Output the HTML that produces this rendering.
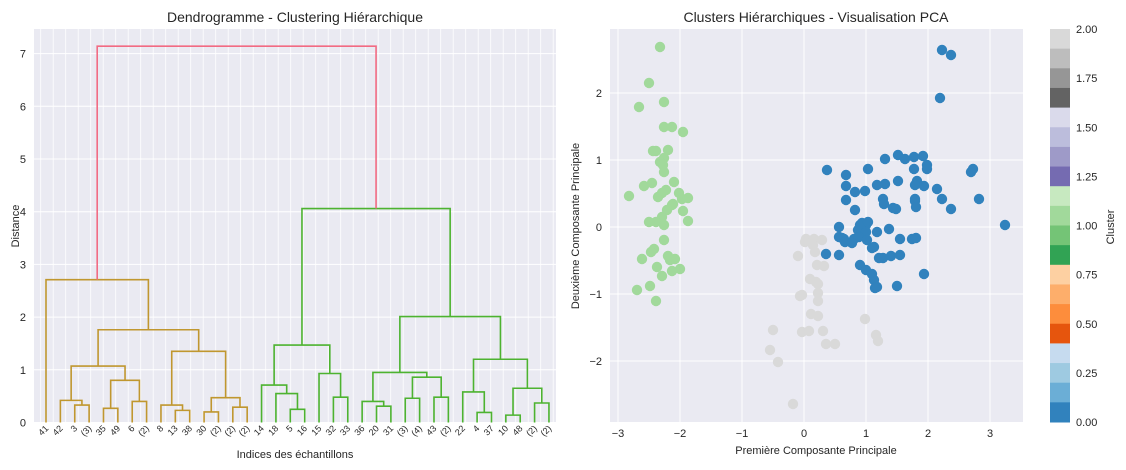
<!DOCTYPE html>
<html><head><meta charset="utf-8"><style>
body{margin:0;background:#fff;}
svg{display:block;font-family:"Liberation Sans",Arial,sans-serif;}
</style></head><body>
<svg id="s" width="1126" height="470" xmlns="http://www.w3.org/2000/svg"></svg>
<script>
const S=document.getElementById('s');let h='';
// LEFT
const L=34,R=556,T=29,B=422;
h+=`<rect x="${L}" y="${T}" width="${R-L}" height="${B-T}" fill="#eaeaf2"/>`;
for(let x=40.7;x<R;x+=12.5)h+=`<line x1="${x}" y1="${T}" x2="${x}" y2="${B}" stroke="#fff" stroke-width="0.8"/>`;
const yd=d=>422.5-52.7*d;
for(let d=0;d<=7;d++){h+=`<line x1="${L}" y1="${yd(d)}" x2="${R}" y2="${yd(d)}" stroke="#fff" stroke-width="1"/>`;
h+=`<text x="${L-8}" y="${yd(d)+4}" font-size="11" fill="#262626" text-anchor="end">${d}</text>`;}
const lx=i=>46+i*14.37;
const n=(hh,a,b)=>({h:hh,a,b});
const A=n(2.71,0,n(1.76,n(1.07,n(0.42,1,n(0.33,2,3)),n(0.80,n(0.27,4,5),n(0.40,6,7))),n(1.35,n(0.33,8,n(0.23,9,10)),n(0.47,n(0.20,11,12),n(0.29,13,14)))));
const Bt=n(4.06,n(1.47,n(0.71,15,n(0.55,16,n(0.25,17,18))),n(0.93,19,n(0.48,20,21))),n(2.01,n(0.95,n(0.40,22,n(0.31,23,24)),n(0.86,n(0.46,25,26),n(0.48,27,28))),n(1.20,n(0.58,29,n(0.19,30,31)),n(0.65,n(0.14,32,33),n(0.37,34,35)))));
function draw(t,c){if(typeof t==='number')return[lx(t),0];
const[xa,ha]=draw(t.a,c),[xb,hb]=draw(t.b,c);
h+=`<path d="M${xa},${yd(ha)}V${yd(t.h)}H${xb}V${yd(hb)}" fill="none" stroke="${c}" stroke-width="1.6"/>`;return[(xa+xb)/2,t.h];}
const[xA]=draw(A,'#c0972f'),[xB]=draw(Bt,'#4db330');
h+=`<path d="M${xA},${yd(2.71)}V${yd(7.14)}H${xB}V${yd(4.06)}" fill="none" stroke="#f26b83" stroke-width="1.6"/>`;
const labs=['41','42','3','(3)','35','49','6','(2)','8','13','38','30','(2)','(2)','(2)','14','18','5','16','15','32','33','36','20','31','(3)','(4)','43','(2)','22','4','37','10','48','(2)','(2)'];
labs.forEach((s,i)=>{const x=lx(i)+3,y=429;h+=`<text x="${x}" y="${y}" font-size="9" fill="#262626" text-anchor="end" transform="rotate(-45 ${x} ${y})">${s}</text>`;});
h+=`<text x="295" y="22" font-size="14" fill="#262626" text-anchor="middle">Dendrogramme - Clustering Hiérarchique</text>`;
h+=`<text x="295" y="458" font-size="11" fill="#262626" text-anchor="middle">Indices des échantillons</text>`;
h+=`<text x="19" y="226" font-size="11" fill="#262626" text-anchor="middle" transform="rotate(-90 19 226)">Distance</text>`;
// RIGHT
const L2=610,R2=1023;
h+=`<rect x="${L2}" y="${T}" width="${R2-L2}" height="${B-T}" fill="#eaeaf2"/>`;
for(let v=-3;v<=3;v++){const x=804+62*v;h+=`<line x1="${x}" y1="${T}" x2="${x}" y2="${B}" stroke="#fff"/>`;h+=`<text x="${x}" y="437" font-size="11" fill="#262626" text-anchor="middle">${v<0?'−'+(-v):v}</text>`;}
for(let v=-2;v<=2;v++){const y=227-67*v;h+=`<line x1="${L2}" y1="${y}" x2="${R2}" y2="${y}" stroke="#fff"/>`;h+=`<text x="${L2-8}" y="${y+4}" font-size="11" fill="#262626" text-anchor="end">${v<0?'−'+(-v):v}</text>`;}
const G=[[660,47],[649,83],[639,107],[664,102],[664,127],[672,127],[683,132],[653,151],[656,151],[668,150],[664,158],[660,162],[663,165],[664,172],[629,196],[644,186],[652,183],[674,182],[658,197],[662,193],[666,190],[679,193],[682,199],[688,198],[672,205],[667,210],[673,204],[683,211],[662,217],[656,222],[649,222],[664,225],[688,221],[664,240],[654,249],[651,252],[642,259],[668,256],[670,260],[675,259],[657,267],[662,276],[680,269],[672,271],[637,290],[650,286],[656,301]];
const Gr=[[806,239],[805,242],[814,239],[822,240],[813,245],[815,252],[798,256],[817,265],[824,266],[810,279],[816,282],[818,284],[818,293],[800,296],[802,295],[818,301],[811,314],[818,316],[773,330],[802,332],[809,331],[823,331],[826,344],[835,344],[865,319],[876,335],[878,341],[770,350],[778,362],[793,404]];
const Bl=[[942,50],[951,55],[940,98],[827,170],[846,175],[868,169],[885,159],[898,155],[905,159],[914,157],[923,156],[927,165],[927,169],[914,169],[971,172],[973,169],[846,186],[885,184],[877,185],[898,181],[917,181],[915,185],[924,186],[937,189],[846,200],[855,192],[865,191],[883,199],[884,204],[893,208],[896,209],[915,201],[915,199],[916,207],[942,199],[979,199],[951,209],[855,210],[1005,225],[839,227],[839,237],[860,225],[858,230],[866,232],[844,239],[854,239],[842,238],[845,242],[859,237],[866,225],[852,243],[862,223],[868,222],[877,232],[889,229],[900,239],[912,239],[916,238],[826,254],[839,255],[867,240],[874,247],[872,248],[883,258],[891,256],[900,255],[860,265],[866,270],[872,274],[874,280],[875,288],[897,286],[924,274],[877,287],[879,258]];
G.forEach(p=>h+=`<circle cx="${p[0]}" cy="${p[1]}" r="5.2" fill="#a1d99b"/>`);
Gr.forEach(p=>h+=`<circle cx="${p[0]}" cy="${p[1]}" r="5.2" fill="#d9d9d9"/>`);
Bl.forEach(p=>h+=`<circle cx="${p[0]}" cy="${p[1]}" r="5.2" fill="#3182bd"/>`);
h+=`<text x="816" y="22" font-size="14" fill="#262626" text-anchor="middle">Clusters Hiérarchiques - Visualisation PCA</text>`;
h+=`<text x="816" y="454" font-size="11" fill="#262626" text-anchor="middle">Première Composante Principale</text>`;
h+=`<text x="579" y="226" font-size="11" fill="#262626" text-anchor="middle" transform="rotate(-90 579 226)">Deuxième Composante Principale</text>`;
// colorbar
const cols=['#d9d9d9','#bdbdbd','#969696','#636363','#dadaeb','#bcbddc','#9e9ac8','#756bb1','#c7e9c0','#a1d99b','#74c476','#31a354','#fdd0a2','#fdae6b','#fd8d3c','#e6550d','#c6dbef','#9ecae1','#6baed6','#3182bd'];
const ch=(B-T)/20;cols.forEach((c,i)=>h+=`<rect x="1050" y="${T+i*ch}" width="20" height="${ch+0.5}" fill="${c}"/>`);
for(let k=0;k<=8;k++){const y=B-k*(B-T)/8;h+=`<text x="1076" y="${y+4}" font-size="11" fill="#262626">${(k*0.25).toFixed(2)}</text>`;}
h+=`<text x="1114" y="227" font-size="11" fill="#262626" text-anchor="middle" transform="rotate(-90 1114 227)">Cluster</text>`;
S.innerHTML=h;
</script>
</body></html>
